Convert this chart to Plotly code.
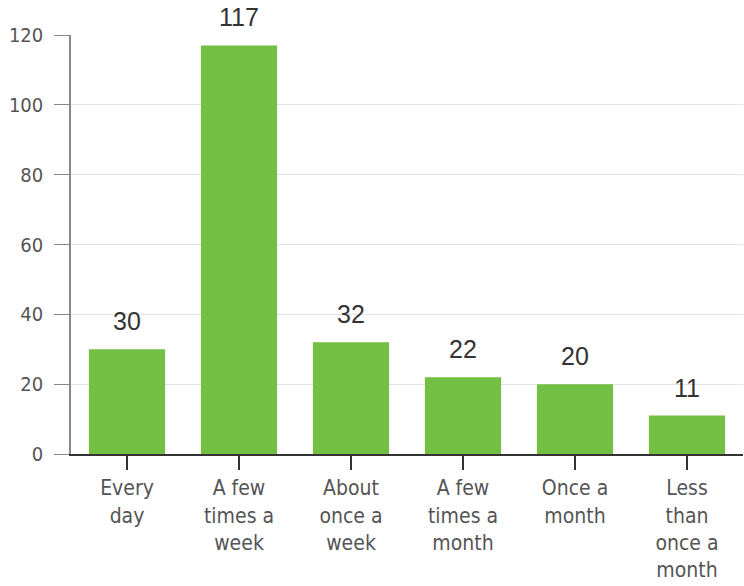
import plotly.graph_objects as go

categories = ["Every<br>day", "A few<br>times a<br>week", "About<br>once a<br>week",
              "A few<br>times a<br>month", "Once a<br>month", "Less<br>than<br>once a<br>month"]
counts = [30, 117, 32, 22, 20, 11]
y_ticks = [0, 20, 40, 60, 80, 100, 120]

bar_color = "#72bf44"
x_font = dict(family="DejaVu Sans Condensed, Roboto, sans-serif", size=21, color="#555555")
y_font = dict(family="DejaVu Sans Condensed, Roboto, sans-serif", size=20, color="#555555")

fig = go.Figure(go.Bar(
    x=categories, y=counts,
    marker=dict(color=bar_color, line=dict(width=0)),
    hoverinfo="skip",
))

# value labels above each bar
for cat, val in zip(categories, counts):
    fig.add_annotation(
        x=cat, y=val, text=str(val), showarrow=False,
        yanchor="bottom", yshift=12,
        font=dict(family="Liberation Sans, Arial, sans-serif", size=25, color="#333333"),
    )

fig.update_layout(
    width=744, height=586,
    margin=dict(l=71, r=1, t=35, b=132),
    paper_bgcolor="white", plot_bgcolor="white",
    bargap=0.32,
    showlegend=False,
    xaxis=dict(
        showline=True, linecolor="#333333", linewidth=2,
        ticks="outside", ticklen=14, tickcolor="#333333", tickwidth=2,
        tickfont=x_font, showgrid=False, fixedrange=True,
    ),
    yaxis=dict(
        range=[0, 120], tickvals=y_ticks,
        showline=True, linecolor="#888888", linewidth=1.5,
        ticks="outside", ticklen=15, tickcolor="#888888",
        ticklabelstandoff=7,
        showgrid=True, gridcolor="#e3e3e3", gridwidth=1,
        tickfont=y_font, zeroline=False, fixedrange=True,
    ),
)

fig.write_html("out.html")
